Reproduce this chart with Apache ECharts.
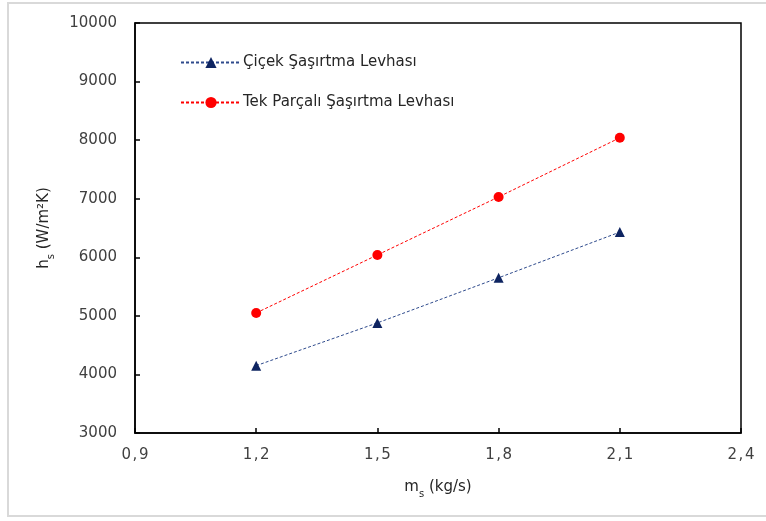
<!DOCTYPE html>
<html>
<head>
<meta charset="utf-8">
<script src="https://cdn.jsdelivr.net/npm/echarts@6/dist/echarts.min.js"></script>
<style>html,body{margin:0;padding:0;background:#fff}#c{width:766px;height:521px}</style>
</head>
<body>
<div id="c"></div>
<script>
const xValues = [1.2, 1.5, 1.8, 2.1];
const cicekValues = [4150, 4880, 5650, 6430];
const tekParcaliValues = [5050, 6040, 7030, 8040];
const seriesNames = ['Çiçek Şaşırtma Levhası', 'Tek Parçalı Şaşırtma Levhası'];

const FONT = '"DejaVu Sans", "Open Sans", sans-serif';
const chart = echarts.init(document.getElementById('c'), null, {renderer: 'canvas'});
chart.setOption({
  backgroundColor: '#fff',
  animation: false,
  textStyle: {fontFamily: FONT},
  graphic: [{
    type: 'rect', silent: true,
    shape: {x: 8, y: 3, width: 770, height: 513},
    style: {fill: 'none', stroke: '#d9d9d9', lineWidth: 2}
  }],
  grid: {left: 135, right: 25, top: 23, bottom: 88, show: true, borderColor: '#000', borderWidth: 1.5, backgroundColor: 'transparent'},
  legend: {
    left: 175, top: 50, orient: 'vertical', itemGap: 25, itemWidth: 60, itemHeight: 14,
    textStyle: {fontFamily: FONT, fontSize: 15, color: '#262626', padding: [0,0,0,-3]},
    data: seriesNames
  },
  xAxis: {
    type: 'value', min: 0.9, max: 2.4, interval: 0.3,
    axisLine: {lineStyle: {color: '#000', width: 1.5}},
    axisTick: {inside: true, length: 5, lineStyle: {color: '#000', width: 1.5}},
    splitLine: {show: false},
    axisLabel: {margin: 15, fontSize: 15, color: '#404040', fontFamily: FONT,
      formatter: v => v.toFixed(1).replace('.', '\u200A,\u200A')},
    name: '{a|m}{s|s}{a| (kg/s)}', nameLocation: 'middle', nameGap: 44,
    nameTextStyle: {rich: {
      a: {fontSize: 15, color: '#262626', fontFamily: FONT, verticalAlign: 'bottom', lineHeight: 18},
      s: {fontSize: 10, color: '#262626', fontFamily: FONT, verticalAlign: 'bottom', lineHeight: 12, padding: [0,0,-4,0]}
    }}
  },
  yAxis: {
    type: 'value', min: 3000, max: 10000, interval: 1000,
    axisLine: {show: true, lineStyle: {color: '#000', width: 1.5}},
    axisTick: {show: true, inside: true, length: 5, lineStyle: {color: '#000', width: 1.5}},
    splitLine: {show: false},
    axisLabel: {margin: 18, fontSize: 15, color: '#404040', fontFamily: FONT, formatter: v => String(v)},
    name: '{a|h}{s|s}{a| (W/m²K)}', nameLocation: 'middle', nameGap: 83, nameRotate: 90,
    nameTextStyle: {rich: {
      a: {fontSize: 15, color: '#262626', fontFamily: FONT, verticalAlign: 'bottom', lineHeight: 18},
      s: {fontSize: 10, color: '#262626', fontFamily: FONT, verticalAlign: 'bottom', lineHeight: 12, padding: [0,0,-4,0]}
    }}
  },
  series: [{
    name: seriesNames[0], type: 'line',
    data: xValues.map((x, i) => [x, cicekValues[i]]),
    symbol: 'triangle', symbolSize: 10,
    itemStyle: {color: '#0E2461'},
    lineStyle: {color: '#2E4A8C', width: 1, type: [3, 2]}
  }, {
    name: seriesNames[1], type: 'line',
    data: xValues.map((x, i) => [x, tekParcaliValues[i]]),
    symbol: 'circle', symbolSize: 10,
    itemStyle: {color: '#FF0000'},
    lineStyle: {color: '#FF0000', width: 1, type: [3, 2]}
  }]
});
</script>
</body>
</html>
